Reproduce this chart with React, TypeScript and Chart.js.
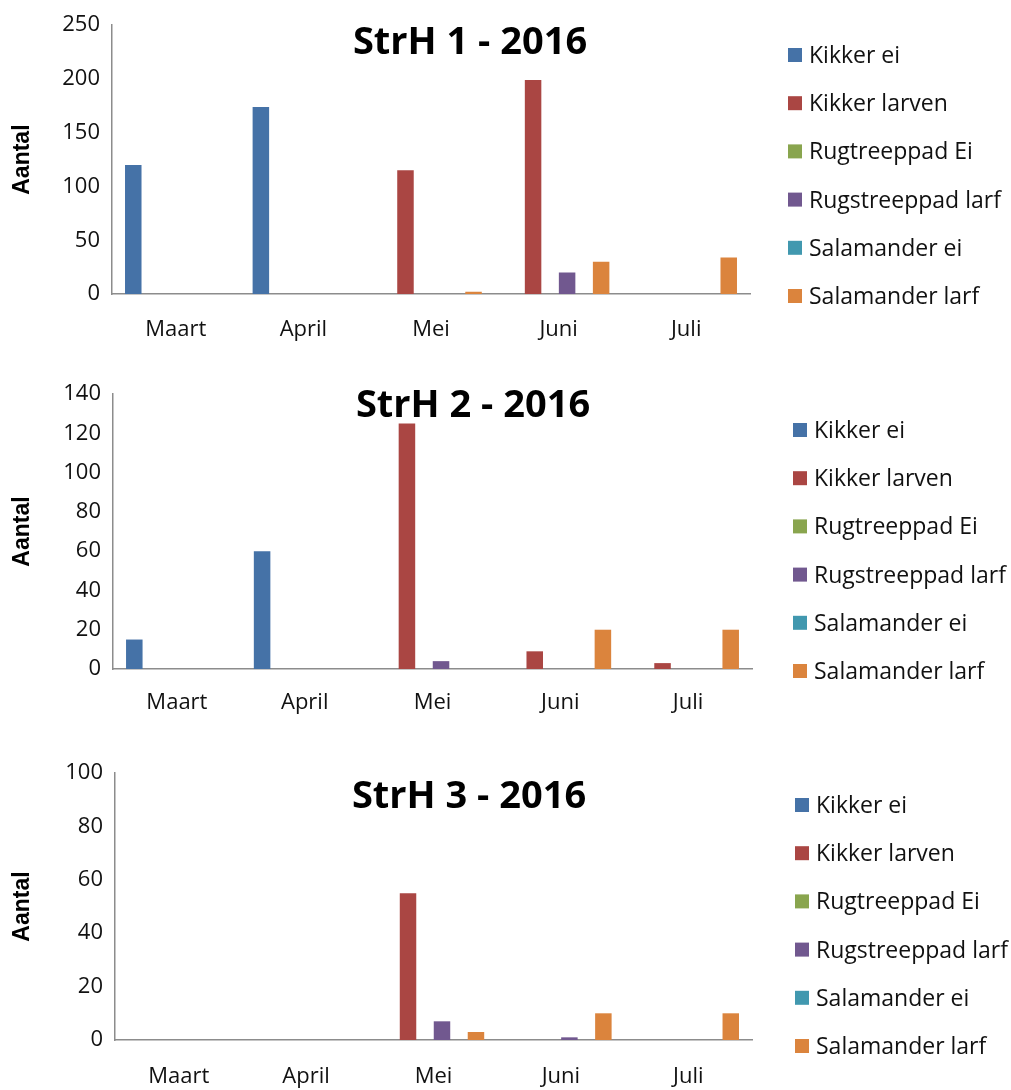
import React, { useEffect, useRef } from 'react';
import { Chart, registerables } from 'chart.js';

Chart.register(...registerables);

// ---------- data ----------
const months = ['Maart', 'April', 'Mei', 'Juni', 'Juli'];
const seriesLabels = ['Kikker ei', 'Kikker larven', 'Rugtreeppad Ei', 'Rugstreeppad larf', 'Salamander ei', 'Salamander larf'];
const seriesColors = ['#4572A7', '#AA4643', '#89A54E', '#71588F', '#4198AF', '#DB843D'];

// StrH 1 - 2016
const strh1KikkerEi = [120, 174, 0, 0, 0];
const strh1KikkerLarven = [0, 0, 115, 199, 0];
const strh1RugtreeppadEi = [0, 0, 0, 0, 0];
const strh1RugstreeppadLarf = [0, 0, 0, 20, 0];
const strh1SalamanderEi = [0, 0, 0, 0, 0];
const strh1SalamanderLarf = [0, 0, 2, 30, 34];
const strh1Ticks = [0, 50, 100, 150, 200, 250];

// StrH 2 - 2016
const strh2KikkerEi = [15, 60, 0, 0, 0];
const strh2KikkerLarven = [0, 0, 125, 9, 3];
const strh2RugtreeppadEi = [0, 0, 0, 0, 0];
const strh2RugstreeppadLarf = [0, 0, 4, 0, 0];
const strh2SalamanderEi = [0, 0, 0, 0, 0];
const strh2SalamanderLarf = [0, 0, 0, 20, 20];
const strh2Ticks = [0, 20, 40, 60, 80, 100, 120, 140];

// StrH 3 - 2016
const strh3KikkerEi = [0, 0, 0, 0, 0];
const strh3KikkerLarven = [0, 0, 55, 0, 0];
const strh3RugtreeppadEi = [0, 0, 0, 0, 0];
const strh3RugstreeppadLarf = [0, 0, 7, 1, 0];
const strh3SalamanderEi = [0, 0, 0, 0, 0];
const strh3SalamanderLarf = [0, 0, 3, 10, 10];
const strh3Ticks = [0, 20, 40, 60, 80, 100];

// ---------- layout (not data) ----------
type Panel = {
  title: string;
  series: number[][];
  ticks: number[];
  height: number;
  area: { left: number; top: number; right: number; bottom: number };
  titleX: number;
  titleBaseline: number;
  legendX: number;
  legendY0: number;
  xTickPad: number;
};

const panels: Panel[] = [
  {
    title: 'StrH 1 - 2016',
    series: [strh1KikkerEi, strh1KikkerLarven, strh1RugtreeppadEi, strh1RugstreeppadLarf, strh1SalamanderEi, strh1SalamanderLarf],
    ticks: strh1Ticks,
    height: 360,
    area: { left: 112, top: 22, right: 750, bottom: 294 },
    titleX: 470,
    titleBaseline: 54,
    legendX: 788,
    legendY0: 55,
    xTickPad: 23,
  },
  {
    title: 'StrH 2 - 2016',
    series: [strh2KikkerEi, strh2KikkerLarven, strh2RugtreeppadEi, strh2RugstreeppadLarf, strh2SalamanderEi, strh2SalamanderLarf],
    ticks: strh2Ticks,
    height: 380,
    area: { left: 113, top: 34, right: 752, bottom: 309 },
    titleX: 473,
    titleBaseline: 57,
    legendX: 793,
    legendY0: 70,
    xTickPad: 21,
  },
  {
    title: 'StrH 3 - 2016',
    series: [strh3KikkerEi, strh3KikkerLarven, strh3RugtreeppadEi, strh3RugstreeppadLarf, strh3SalamanderEi, strh3SalamanderLarf],
    ticks: strh3Ticks,
    height: 350,
    area: { left: 115, top: 33, right: 752, bottom: 300 },
    titleX: 469,
    titleBaseline: 68,
    legendX: 795,
    legendY0: 65,
    xTickPad: 24,
  },
];

const WIDTH = 1011;
const LEGEND_STEP = 48.2;
const FONT = '"Open Sans", "DejaVu Sans", sans-serif';

const overlayPlugin = {
  id: 'overlay',
  afterDraw(chart: any, _args: any, opts: any) {
    const ctx = chart.ctx as CanvasRenderingContext2D;
    ctx.save();
    ctx.fillStyle = '#000';
    ctx.font = `bold 38px ${FONT}`;
    ctx.textAlign = 'center';
    ctx.textBaseline = 'alphabetic';
    ctx.fillText(opts.title, opts.titleX, opts.titleBaseline);

    ctx.font = `23px ${FONT}`;
    ctx.textAlign = 'left';
    chart.data.datasets.forEach((ds: any, i: number) => {
      const yc = opts.legendY0 + i * LEGEND_STEP;
      ctx.fillStyle = ds.backgroundColor;
      ctx.fillRect(opts.legendX, yc - 7, 14, 14);
      ctx.fillStyle = '#111';
      ctx.fillText(ds.label, opts.legendX + 21, yc + 8);
    });
    ctx.restore();
  },
};

function BarPanel({ panel }: { panel: Panel }) {
  const ref = useRef<HTMLCanvasElement | null>(null);

  useEffect(() => {
    if (!ref.current) return;
    const { area, ticks, height } = panel;
    const chart = new Chart(ref.current, {
      type: 'bar',
      data: {
        labels: months,
        datasets: panel.series.map((values, i) => ({
          label: seriesLabels[i],
          data: values,
          backgroundColor: seriesColors[i],
          borderWidth: 0,
          categoryPercentage: 0.8,
          barPercentage: 0.97,
        })),
      },
      options: {
        responsive: false,
        animation: false,
        layout: {
          padding: { left: 0, top: area.top, right: WIDTH - area.right, bottom: 0 },
        },
        plugins: {
          legend: { display: false },
          title: { display: false },
          tooltip: { enabled: false },
          overlay: {
            title: panel.title,
            titleX: panel.titleX,
            titleBaseline: panel.titleBaseline,
            legendX: panel.legendX,
            legendY0: panel.legendY0,
          },
        } as any,
        scales: {
          x: {
            grid: { display: false, drawTicks: false },
            border: { display: true, color: '#8c8c8c', width: 1.5 },
            ticks: {
              color: '#111',
              font: { family: FONT, size: 22 },
              padding: panel.xTickPad,
              maxRotation: 0,
            },
            afterFit: (s: any) => {
              s.height = height - area.bottom;
            },
          },
          y: {
            min: ticks[0],
            max: ticks[ticks.length - 1],
            grid: { display: false, drawTicks: false },
            border: { display: true, color: '#8c8c8c', width: 1.5 },
            ticks: {
              stepSize: ticks[1] - ticks[0],
              color: '#111',
              font: { family: FONT, size: 22 },
              padding: 12,
            },
            title: {
              display: true,
              text: 'Aantal',
              color: '#000',
              font: { family: '"Liberation Sans", Arial, sans-serif', size: 23, weight: 'bold' },
              padding: { top: 9, bottom: 0 },
            },
            afterFit: (s: any) => {
              s.width = area.left;
            },
          },
        },
      },
      plugins: [overlayPlugin],
    });
    return () => chart.destroy();
  }, [panel]);

  return (
    <canvas
      ref={ref}
      width={WIDTH}
      height={panel.height}
      style={{ display: 'block', width: WIDTH, height: panel.height }}
    />
  );
}

export default function App() {
  return (
    <div style={{ position: 'absolute', left: 0, top: 0, width: WIDTH, height: 1090, background: '#fff' }}>
      {panels.map((p) => (
        <BarPanel key={p.title} panel={p} />
      ))}
    </div>
  );
}
